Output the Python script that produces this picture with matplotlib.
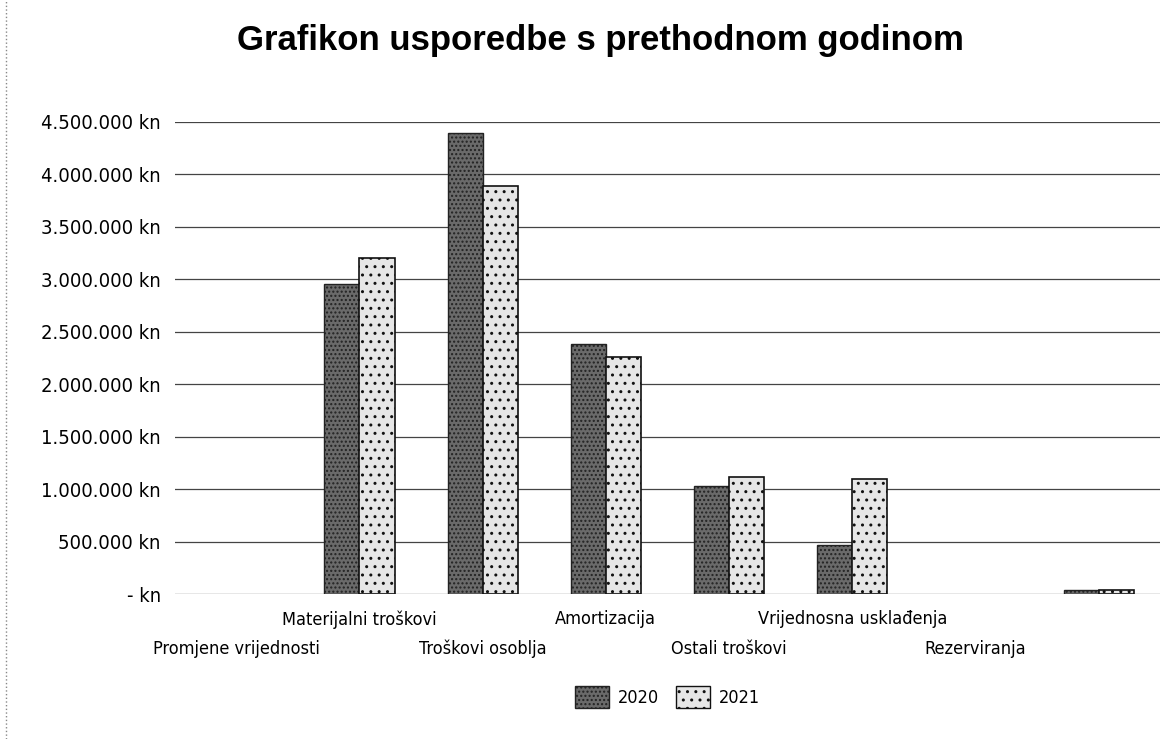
import matplotlib
matplotlib.use("Agg")
import matplotlib.pyplot as plt
import numpy as np
from matplotlib.ticker import FuncFormatter

categories = ["Promjene vrijednosti", "Materijalni troškovi", "Troškovi osoblja",
              "Amortizacija", "Ostali troškovi", "Vrijednosna usklađenja",
              "Rezerviranja", ""]
v2020 = [0, 2960000, 4390000, 2380000, 1030000, 470000, 0, 40000]
v2021 = [0, 3200000, 3890000, 2260000, 1120000, 1100000, 0, 40000]
years = ["2020", "2021"]
yticks = [0, 500000, 1000000, 1500000, 2000000, 2500000, 3000000, 3500000, 4000000, 4500000]

plt.rcParams["hatch.color"] = "#9a9a9a"
fig = plt.figure(figsize=(11.72, 7.39), dpi=100)
ax = fig.add_axes([0.149, 0.196, 0.841, 0.639])

x = np.arange(len(categories))
w = 0.285
lw20 = [1.0 if v > 0 else 0 for v in v2020]
lw21 = [1.2 if v > 0 else 0 for v in v2021]
ax.bar(x - w/2, v2020, w, color="#6a6a6a", edgecolor="#222222", linewidth=lw20,
       hatch="....", label=years[0], zorder=3)
ax.bar(x + w/2, v2021, w, color="#e6e6e6", edgecolor="#111111", linewidth=lw21,
       hatch="..", label=years[1], zorder=3)

ax.set_xlim(-0.5, len(categories) - 0.5)
ax.set_ylim(0, 4500000)
ax.set_yticks(yticks)

def kn(v, pos):
    if v == 0:
        return "- kn"
    return "{:,.0f} kn".format(v).replace(",", ".")
ax.yaxis.set_major_formatter(FuncFormatter(kn))
ax.grid(axis="y", color="#444444", linewidth=0.9, zorder=0)
for s in ax.spines.values():
    s.set_visible(False)
ax.tick_params(axis="both", which="both", length=0)
ax.tick_params(axis="y", labelsize=14.5, pad=10)
for t in ax.get_yticklabels():
    t.set_fontstretch("condensed")

# alternate labels on two rows
odd = x[1::2]
even = x[0::2]
ax.set_xticks(odd)
ax.set_xticklabels(categories[1::2], fontsize=13, fontstretch="condensed")
ax.set_xticks(even, minor=True)
ax.set_xticklabels(categories[0::2], minor=True, fontsize=13, fontstretch="condensed")
ax.tick_params(axis="x", which="major", pad=11.5)
ax.tick_params(axis="x", which="minor", pad=33)

fig.text(0.512, 0.945, "Grafikon usporedbe s prethodnom godinom", ha="center",
         va="center", fontsize=25, fontweight="bold", family="Liberation Sans")

leg = ax.legend(loc="center", bbox_to_anchor=(0.5, -0.218), ncol=2, frameon=False,
                prop={"size": 13, "stretch": "condensed"}, handlelength=1.9,
                handleheight=1.5, columnspacing=0.9, handletextpad=0.5)
for h in leg.legend_handles:
    h.set_linewidth(1.0)

fig.add_artist(plt.Line2D([0.005, 0.005], [0.0, 1.0], color="#888888",
                          linewidth=1, linestyle=":", transform=fig.transFigure))

fig.savefig("out.png", dpi=100)
